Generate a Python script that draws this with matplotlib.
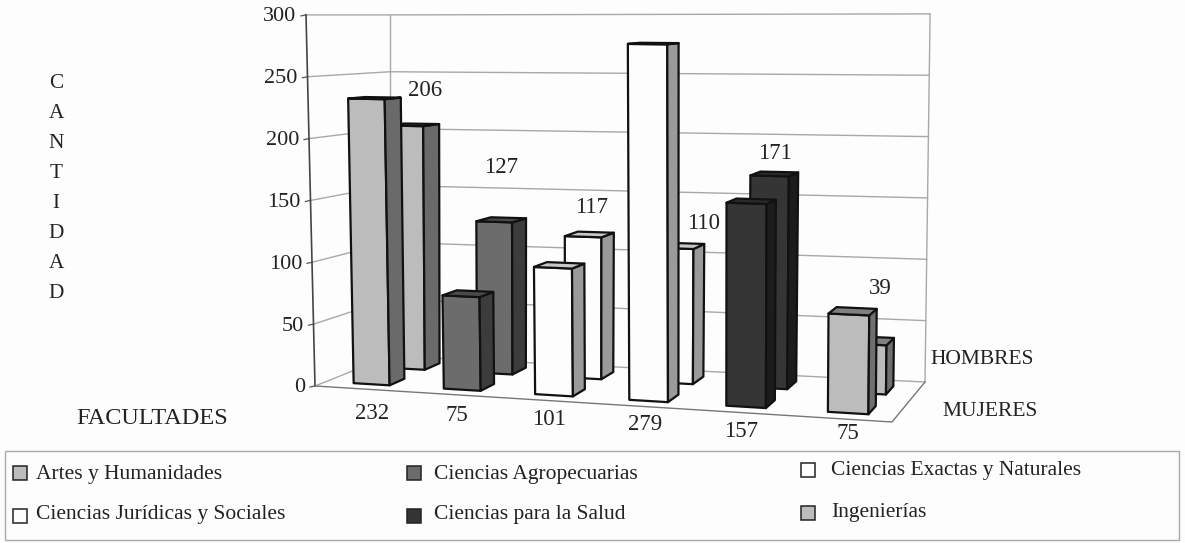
import numpy as np
import matplotlib
matplotlib.use("Agg")
import matplotlib.pyplot as plt
from matplotlib.patches import Polygon, Rectangle

plt.rcParams['font.family'] = ['Liberation Serif', 'DejaVu Serif']

facultades = ['Artes y Humanidades', 'Ciencias Agropecuarias', 'Ciencias Exactas y Naturales',
              'Ciencias Jurídicas y Sociales', 'Ciencias para la Salud', 'Ingenierías']
mujeres = [232, 75, 101, 279, 157, 75]
hombres = [206, 127, 117, 110, 171, 39]
y_ticks = [0, 50, 100, 150, 200, 250, 300]
eje_y = list('CANTIDAD')

# colores: frente, lado, tapa
front = ['#bcbcbc', '#6c6c6c', '#fdfdfd', '#fdfdfd', '#353535', '#bcbcbc']
side = ['#6a6a6a', '#3c3c3c', '#9a9a9a', '#9a9a9a', '#1c1c1c', '#6f6f6f']
top = ['#777777', '#4a4a4a', '#c8c8c8', '#c8c8c8', '#2a2a2a', '#808080']

# posicion de cada barra sobre el piso (0 a 1)
bar_u = [0.048, 0.206, 0.366, 0.531, 0.701, 0.879]


def bilin(c, u, v):
    # c = frente-izq, frente-der, fondo-der, fondo-izq
    return c[0]*(1-u)*(1-v) + c[1]*u*(1-v) + c[2]*u*v + c[3]*(1-u)*v


def project(u, v, h=0):
    s = bilin([1.237, 1.34, 1.227, 1.137], u, v)
    lean = bilin([-0.03, 0.012, 0.017, 0.0], u, v)
    x = bilin([315, 892, 925, 390], u, v)
    y = bilin([386, 422, 382, 356], u, v)
    return x + lean*h, y - s*h


def bar_w(i):
    return 0.063 + 0.0016*i


fig = plt.figure(figsize=(11.85, 5.43), dpi=100, facecolor='#fdfdfd')
ax = fig.add_axes([0, 0, 1, 1])
ax.set_xlim(0, 1185)
ax.set_ylim(543, 0)
ax.axis('off')

txt = '#222222'
grid = '#a8a8a8'

# paredes y piso
for t in y_ticks:
    pts = [project(0, 0, t), project(0, 1, t), project(1, 1, t)]
    ax.plot(*zip(*pts), color=grid, lw=1.0, zorder=1)
    x0, y0 = project(0, 0, t)
    ax.plot([x0-5, x0], [y0+1, y0], color='#555555', lw=0.9, zorder=1)
    ax.text(x0-10, y0 + 2, str(t), ha='right', va='center', fontsize=16, color=txt)
ax.plot(*zip(project(0, 0), project(0, 0, 300)), color='#444444', lw=1.2, zorder=1)
ax.plot(*zip(project(0, 1), project(0, 1, 300)), color=grid, lw=1.0, zorder=1)
ax.plot(*zip(project(1, 1), project(1, 1, 300)), color=grid, lw=1.0, zorder=1)
ax.plot(*zip(project(0, 0), project(1, 0), project(1, 1)), color='#777777', lw=1.0, zorder=1)


def bar3d(i, value, v0, v1, z):
    u0 = bar_u[i]
    u1 = u0 + bar_w(i)
    edge = dict(edgecolor='#111111', lw=1.6, joinstyle='round', zorder=z)
    ax.add_patch(Polygon([project(u0, v0), project(u1, v0), project(u1, v0, value), project(u0, v0, value)],
                         facecolor=front[i], **edge))
    ax.add_patch(Polygon([project(u1, v0), project(u1, v1), project(u1, v1, value), project(u1, v0, value)],
                         facecolor=side[i], **edge))
    ax.add_patch(Polygon([project(u0, v0, value), project(u1, v0, value), project(u1, v1, value), project(u0, v1, value)],
                         facecolor=top[i], **edge))


for i, val in enumerate(hombres):
    bar3d(i, val, 0.65, 0.86, 2 + i*0.1)
for i, val in enumerate(mujeres):
    bar3d(i, val, 0.15, 0.36, 3 + i*0.1)

# etiquetas de valores
dx_muj = [11, 4, 4, 4, 2, 5]
dy_muj = [25, 21, 19, 18, 19, 15]
dx_hom = [19, 7, 8, 29, 5, 13]
dy_hom = [35, 54, 29, 25, 22, 56]
for i, val in enumerate(mujeres):
    x, y = project(bar_u[i] + bar_w(i)/2, 0)
    ax.text(x + dx_muj[i], y + dy_muj[i], str(val), ha='center', va='center', fontsize=16.5, color=txt, zorder=6)
for i, val in enumerate(hombres):
    x, y = project(bar_u[i] + bar_w(i)/2, 0.65, val)
    ax.text(x + dx_hom[i], y - dy_hom[i], str(val), ha='center', va='center', fontsize=16.5, color=txt, zorder=6)

# textos de ejes
for k, letra in enumerate(eje_y):
    ax.text(56, 83 + k*30, letra, ha='center', va='center', fontsize=15.3, color=txt)
ax.text(152, 418, 'FACULTADES', ha='center', va='center', fontsize=17.5, color=txt)
ax.text(982, 360, 'HOMBRES', ha='center', va='center', fontsize=15.5, color=txt)
ax.text(990, 412, 'MUJERES', ha='center', va='center', fontsize=15.5, color=txt)

# leyenda
ax.add_patch(Rectangle((5, 451), 1174, 89, facecolor='none', edgecolor='#a8a8a8', lw=1.0))
swatch_x = [13, 407, 801]
text_x = [36, 434, 831]
swatch_y = [[473, 516], [473, 516], [470, 513]]
text_y = [[474, 514], [474, 514], [471, 512]]
for i, nombre in enumerate(facultades):
    c = i % 3
    r = i // 3
    ax.add_patch(Rectangle((swatch_x[c], swatch_y[c][r]-7), 13.5, 13.5, facecolor=front[i], edgecolor='#222222', lw=1.1))
    ax.text(text_x[c], text_y[c][r], nombre, ha='left', va='center', fontsize=15.5, color=txt)

fig.savefig('out.png', dpi=100, facecolor=fig.get_facecolor())
